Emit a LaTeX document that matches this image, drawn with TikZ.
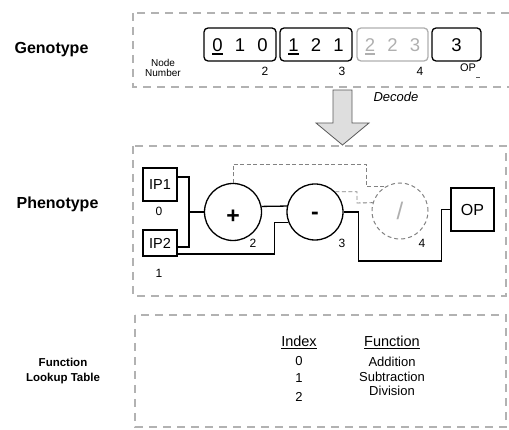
\documentclass[tikz,border=0pt]{standalone}
\usepackage{fontspec}
\setmainfont{Liberation Sans}
\usetikzlibrary{calc}
\newcommand\fs[1]{\fontsize{#1}{#1}\selectfont}
\newsavebox\ulbox
\newcommand\thickul[1]{\sbox\ulbox{#1}\rlap{\rule[-3.7pt]{\wd\ulbox}{1.4pt}}\usebox\ulbox}
\newcommand\thinul[1]{\sbox\ulbox{#1}\rlap{\rule[-2.4pt]{\wd\ulbox}{0.9pt}}\usebox\ulbox}
\newcommand\trip[3]{\makebox[22.5pt]{#1}\makebox[22.5pt]{#2}\makebox[22.5pt]{#3}}
\definecolor{regiongray}{RGB}{178,178,178}
\definecolor{ghostgray}{RGB}{130,130,130}
\definecolor{fadegray}{RGB}{175,175,175}
\definecolor{arrowfill}{RGB}{222,222,222}
\definecolor{arrowline}{RGB}{90,90,90}
\tikzset{
  region/.style={draw=regiongray, line width=2pt, dash pattern=on 8pt off 6pt},
  genebox/.style={draw, rounded corners=4pt, line width=1.3pt, minimum height=33pt,
    minimum width=72pt, inner sep=0pt, text height=13.2pt, text depth=0pt, font=\fs{18.5}},
  lbl/.style={inner sep=0pt, font=\fs{12}},
  side/.style={inner sep=0pt, font=\bfseries\fs{16}},
  ipbox/.style={draw, line width=1.2pt, minimum width=34pt, inner sep=0pt, font=\fs{14.5}},
  fn/.style={draw, circle, line width=1.3pt, inner sep=0pt, font=\bfseries\fs{23}},
  fnghost/.style={draw=ghostgray, circle, line width=1pt, dash pattern=on 4pt off 3pt,
    inner sep=0pt, minimum size=56pt, text=fadegray, font=\fs{24}},
  wire/.style={line width=1.3pt},
  ghost/.style={draw=ghostgray, line width=0.9pt, dash pattern=on 4pt off 2.5pt},
  tab/.style={inner sep=0pt, font=\fs{13}}
}
\begin{document}
\begin{tikzpicture}[x=1pt,y=-1pt]
\useasboundingbox (0,0) rectangle (509,430);
\clip (0,0) rectangle (509,430);

% regions
\draw[region] (133,13) rectangle (520,87);
\draw[region] (133,146) rectangle (506,296);
\draw[region] (135,315) rectangle (506,427);

% side labels
\node[side] (lgeno) at (51.5,50) {Genotype};
\node[side] (lpheno) at (57.5,204) {Phenotype};
\node[inner sep=0pt, font=\bfseries\fs{11.5}, align=center] (lfun) at (63,371)
  {Function\\[3.5pt]Lookup Table};

% genotype
\node[inner sep=0pt, font=\fs{10}, align=center] (nodenum) at (163,68) {Node\\[0.5pt]Number};
\node[genebox] (g2) at (240,44.5) {\trip{\thickul{0}}{1}{0}};
\node[genebox] (g3) at (316,44.5) {\trip{\thickul{1}}{2}{1}};
\node[genebox, draw=fadegray, text=fadegray, minimum width=71pt] (g4) at (392.5,44.5) {\trip{\thickul{2}}{2}{3}};
\node[genebox, minimum width=49pt] (gop) at (456.5,44.5) {3};
\node[lbl] (g2n) at (265,71) {2};
\node[lbl] (g3n) at (342,71) {3};
\node[lbl] (g4n) at (420,71) {4};
\node[lbl, font=\fs{11}] (gopn) at (468,68) {OP};
\draw[line width=0.8pt, arrowline] (476,77) -- (479.5,77);

% decode arrow
\filldraw[fill=arrowfill, draw=arrowline, line width=0.8pt]
  (333,90) -- (352,90) -- (352,123) -- (369,123) -- (342.5,145) -- (316,123) -- (333,123) -- cycle;
\node[inner sep=0pt, font=\itshape\fs{13}] (decode) at (396,97) {Decode};

% phenotype
\node[ipbox, minimum height=33pt] (ip1) at (160,184.5) {IP1};
\node[ipbox, minimum height=26pt] (ip2) at (160,243) {IP2};
\node[lbl] (ip1n) at (159,211) {0};
\node[lbl] (ip2n) at (159,273) {1};
\node[fn, minimum size=57pt, text height=24pt, text depth=0pt] (plus) at (233,212) {+};
\node[fn, minimum size=56pt, text height=16pt, text depth=0pt] (minus) at (315,212) {-};
\node[fnghost] (div) at (400,211) {/};
\node[ipbox, minimum width=43pt, minimum height=43pt, font=\fs{16}] (op) at (472.5,209.5) {OP};
\node[lbl] (n2) at (253,243) {2};
\node[lbl] (n3) at (342,243) {3};
\node[lbl] (n4) at (422,243) {4};

\coordinate (j1) at (189,212);
\draw[wire] ([yshift=7.5pt]ip1.east) -| (j1) |- ([yshift=-4pt]ip2.east);
\draw[wire] (j1) -- (plus.west);
\draw[wire] ([yshift=-11pt]ip2.east) -- ++(97,0) |- (minus.201);
\draw[wire] (plus.11) -- (minus.168);
\draw[wire] (minus.east) -- ++(15,0) -- ++(0,49) -- ++(83,0) |- (op.west);
\draw[ghost] (plus.north) |- (366,164) |- (div.121);
\draw[ghost] (minus.45) -| (357,203) -- (div.163);

% lookup table
\node[tab, font=\fs{14.5}] (hidx) at (299,342) {\thinul{Index}};
\node[tab, font=\fs{14.5}] (hfun) at (392,342) {\thinul{Function}};
\node[tab] (i0) at (299,361) {0};
\node[tab] (i1) at (299,378) {1};
\node[tab] (i2) at (299,397) {2};
\node[tab] (f0) at (392,362) {Addition};
\node[tab] (f1) at (392,377) {Subtraction};
\node[tab] (f2) at (392,391) {Division};
\end{tikzpicture}
\end{document}
